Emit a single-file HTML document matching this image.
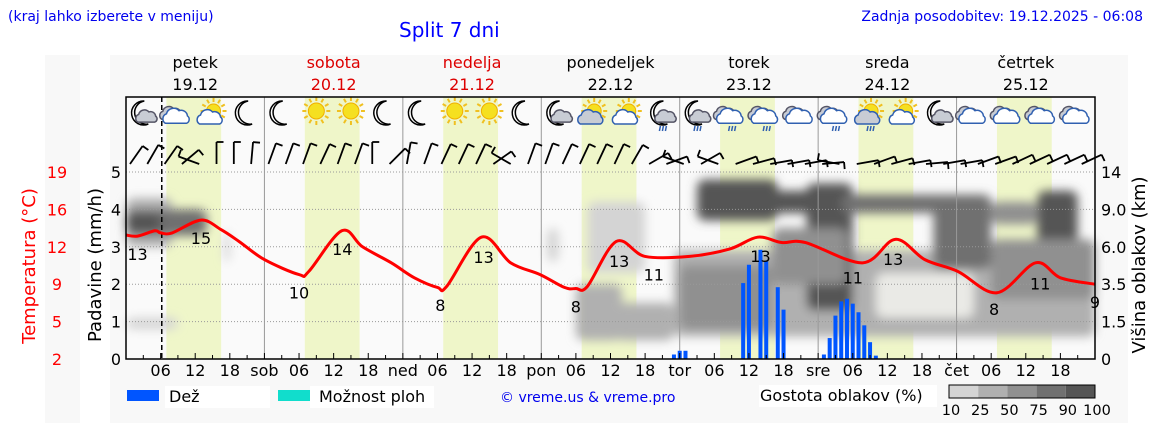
<!DOCTYPE html>
<html><head><meta charset="utf-8">
<style>
html,body{margin:0;padding:0;background:#fff;width:1152px;height:443px;overflow:hidden}
svg{display:block}
text{font-family:"DejaVu Sans","Liberation Sans",sans-serif}
</style></head>
<body>
<svg id="chart" width="1152" height="443" viewBox="0 0 1152 443" xmlns="http://www.w3.org/2000/svg">
<defs>
<filter id="blur" x="-20%" y="-20%" width="140%" height="140%"><feGaussianBlur stdDeviation="5"/></filter>
</defs>
<rect x="45" y="55" width="35" height="368" fill="#f8f8f8"/>
<rect x="110" y="55" width="1018" height="368" fill="#f8f8f8"/>
<text x="8" y="21" font-family="Liberation Sans" font-size="14" fill="#0000ee">(kraj lahko izberete v meniju)</text>
<text x="399" y="37" font-family="Liberation Sans" font-size="20" fill="#0000ff">Split 7 dni</text>
<text x="1143" y="21" text-anchor="end" font-family="Liberation Sans" font-size="14" fill="#0000ee">Zadnja posodobitev: 19.12.2025 - 06:08</text>
<g id="days"></g>
<rect x="126" y="97" width="969" height="262" fill="#fafafa"/>
<g id="daylight"></g>
<g id="clouds" filter="url(#blur)"></g>
<g id="grid"></g>
<g id="bars"></g>
<g id="temp"></g>
<g id="icons"></g>
<g id="wind"></g>
<g id="axes"></g>
<g>
<rect x="127" y="390" width="32" height="11" fill="#0055ff"/>
<rect x="165" y="386" width="105" height="22" fill="#fff"/>
<text x="169" y="402" font-size="16">Dež</text>
<rect x="278" y="390" width="32" height="11" fill="#11ddcc"/>
<rect x="310" y="386" width="124" height="22" fill="#fff"/>
<text x="319" y="402" font-size="16">Možnost ploh</text>
<text x="500" y="402" font-family="Liberation Sans" font-size="14" fill="#0000ee">© vreme.us &amp; vreme.pro</text>
<rect x="759" y="385" width="178" height="22" fill="#fff"/>
<text x="760" y="401" font-family="Liberation Sans" font-size="16">Gostota oblakov (%)</text>
<g id="cbar"></g>
</g>
</svg>
<script>
const NS='http://www.w3.org/2000/svg';
// ---- data ----
const dayNames=['petek','sobota','nedelja','ponedeljek','torek','sreda','četrtek'];
const dayDates=['19.12','20.12','21.12','22.12','23.12','24.12','25.12'];
const dayAbbr=['pet','sob','ned','pon','tor','sre','čet'];
const tempTicks=[2,5,9,12,16,19];
const precipTicks=[0,1,2,3,4,5];
const heightTicks=['0','1.5','3.5','6.0','9.0','14'];
const tempHours=[0,2,5,6,8,13,16.5,19.6,24,30,31.7,37.4,41,46,50,54,55.6,61.6,66.7,71.8,76,78,80,85,90,97.7,104.7,109.5,113.7,117.8,127.7,133.4,138.5,144.2,151,157.7,162,168];
const tempValues=[13.6,13.5,14.0,13.8,13.8,15.0,14.1,13.0,11.3,9.9,10.2,14.0,12.5,11.0,9.6,8.7,8.8,13.4,11.0,9.9,8.7,8.6,8.8,13.0,11.6,11.6,12.3,13.4,12.9,12.9,11.0,13.2,11.3,10.2,8.2,11.0,9.6,9.0];
const labelHours=[2,13,30,37.5,54.5,62,78,85.5,91.5,110,126,133,150.5,158.5,168];
const labelValues=[13,15,10,14,8,13,8,13,11,13,11,13,8,11,9];
const rainHours=[95,96,97,107,108,110,111,113,114,121,122,123,124,125,126,127,128,129,130];
const rainValues=[0.12,0.22,0.22,2.03,2.52,2.92,2.61,1.92,1.32,0.12,0.56,1.16,1.54,1.61,1.48,1.25,0.9,0.45,0.09];
const cloudH0=[0,0,0,0,17,73,80,78,95,96,85,99,106,118,112,124,140,150,158,150,130];
const cloudH1=[8,14,6,9,18,75,90,86,168,112,95,113,125,126,125,145,150,158,165,168,147];
const cloudV0=[3.0,3.3,3.4,0.8,2.6,2.6,2.3,0.5,0.6,0.8,0.5,3.7,3.9,1.3,2.0,3.9,2.4,3.6,2.5,1.6,1.1];
const cloudV1=[4.3,4.0,3.9,1.1,3.4,3.5,4.2,2.0,2.9,2.5,1.5,4.8,4.5,4.7,3.5,4.4,4.4,4.2,4.5,3.2,2.3];
const cloudLvl=[1,3,4,0,0,0,0,1,1,2,1,4,4,4,2,3,3,2,4,2,-1];
const iconTypes=['moonc','cloud','sunc','moon','moon','sun','sun','moon','moon','sun','sun','moon','moonc','suncd','sunc','moonr','moonr','cloudr','cloudr','cloud','cloudr','suncr','sunc','moonc','cloud','cloud','cloud','cloud'];
const windAngles=[35,30,35,50,-70,0,0,5, 20,20,20,25,20,20,0,45, 10,20,25,25,25,55,-60,20, 20,25,25,25,25,30,60,70, -70,60,-70,70,75,80,80,80, 85,-80,80,70,75,80,85,80, 80,70,70,65,65,65,65,65];
const densLabels=['10','25','50','75','90','100'];
const densColors=['#d4d4d4','#b0b0b0','#909090','#707070','#555555'];
const sunrise=7, sunset=16.5, nowHour=6.2;
// ---- scales ----
const X0=126,X1=1095,Y0=359,Y1=172,HOURS=168;
const x=h=>X0+(X1-X0)*h/HOURS;
const yv=v=>Y0-(Y0-Y1)*v/5;
const yt=t=>yv((t-2)/3.5);
function el(tag,attrs,parent,txt){const e=document.createElementNS(NS,tag);for(const k in attrs)e.setAttribute(k,attrs[k]);if(txt!==undefined)e.textContent=txt;parent.appendChild(e);return e;}
const g=id=>document.getElementById(id);
dayNames.forEach((n,i)=>{const cx=x(24*i+12);const col=(i==1||i==2)?'#dd0000':'#000';
 const a=el('text',{x:cx,y:68,'text-anchor':'middle','font-size':16,fill:col},g('days'),n);
 
 const b=el('text',{x:cx,y:90,'text-anchor':'middle','font-size':16,fill:col},g('days'),dayDates[i]);
 });
for(let d=0;d<7;d++){const r=el('rect',{x:x(24*d+sunrise),y:97,width:x(24*d+sunset)-x(24*d+sunrise),height:262,fill:'#eff6c9'},g('daylight'));
 }
cloudH0.forEach((h0,i)=>{const lv=cloudLvl[i];const c=lv<0?'#f4f4f0':densColors[lv];
 const r=el('rect',{x:x(h0),y:yv(cloudV1[i]),width:x(cloudH1[i])-x(h0),height:yv(cloudV0[i])-yv(cloudV1[i]),fill:c,rx:8,opacity:lv<0?0.85:1},g('clouds'));
 });
precipTicks.forEach(v=>{if(v==0)return;const l=el('line',{x1:X0,x2:X1,y1:yv(v),y2:yv(v),stroke:'#999','stroke-width':1,'stroke-dasharray':'1,2'},g('grid'));
 });
for(let d=1;d<7;d++){const l=el('line',{x1:x(24*d),x2:x(24*d),y1:97,y2:Y0,stroke:'#999','stroke-width':1},g('grid'));
 }
const nl=el('line',{x1:x(nowHour),x2:x(nowHour),y1:97,y2:Y0,stroke:'#000','stroke-width':1.5,'stroke-dasharray':'5,3'},g('grid'));

rainHours.forEach((h,i)=>{const r=el('rect',{x:x(h)-2,y:yv(rainValues[i]),width:4,height:Y0-yv(rainValues[i]),fill:'#0055ff'},g('bars'));
 });
const pts=tempHours.map((h,i)=>[x(h),yt(tempValues[i])]);
let d='M'+pts[0][0]+','+pts[0][1];
for(let i=0;i<pts.length-1;i++){const p0=pts[Math.max(0,i-1)],p1=pts[i],p2=pts[i+1],p3=pts[Math.min(pts.length-1,i+2)];
 d+=' C'+(p1[0]+(p2[0]-p0[0])/6)+','+(p1[1]+(p2[1]-p0[1])/6)+' '+(p2[0]-(p3[0]-p1[0])/6)+','+(p2[1]-(p3[1]-p1[1])/6)+' '+p2[0]+','+p2[1];}
const tl=el('path',{d:d,fill:'none',stroke:'#ff0000','stroke-width':3,'stroke-linejoin':'round'},g('temp'));

function interpT(h){for(let i=0;i<tempHours.length-1;i++){if(h<=tempHours[i+1]){const f=(h-tempHours[i])/(tempHours[i+1]-tempHours[i]);return tempValues[i]+f*(tempValues[i+1]-tempValues[i]);}}return tempValues[tempValues.length-1];}
labelHours.forEach((h,i)=>{const t=el('text',{x:Math.min(x(h),1100),y:yt(interpT(h))+24,'text-anchor':'middle','font-size':16,fill:'#000'},g('temp'),labelValues[i]);
 });
function cloudShape(par,cx,cy,s,fill,stroke){el('path',{d:`M${cx-10*s},${cy+6*s} a${5*s} ${5*s} 0 0 1 ${1*s},${-9*s} a${7*s} ${7*s} 0 0 1 ${12*s},${-3*s} a${6*s} ${6*s} 0 0 1 ${8*s},${5*s} a${4*s} ${4*s} 0 0 1 ${-1*s},${7*s} z`,fill:fill,stroke:stroke,'stroke-width':1.5},par);}
function sunShape(par,cx,cy,r){for(let k=0;k<12;k++){const a=k*Math.PI/6;el('line',{x1:cx+Math.cos(a)*(r+2),y1:cy+Math.sin(a)*(r+2),x2:cx+Math.cos(a)*(r+6),y2:cy+Math.sin(a)*(r+6),stroke:'#f0c020','stroke-width':2},par);}
 el('circle',{cx:cx,cy:cy,r:r,fill:'#f5e020',stroke:'#f0b000','stroke-width':1},par);}
function moonShape(par,cx,cy){el('path',{d:`M${cx+3},${cy-12} a12 12 0 1 0 4,23 a10 10 0 0 1 -4,-23 z`,fill:'#fff',stroke:'#000','stroke-width':1.5},par);}
iconTypes.forEach((t,i)=>{const cx=x(3+6*i),cy=113;const gg=el('g',{},g('icons'));
 
 if(t.startsWith('moon'))moonShape(gg,cx-2,cy);
 if(t.startsWith('sun'))sunShape(gg,t=='sun'?cx:cx+1,cy-2,t=='sun'?8:7);
 if(t=='moonc'||t=='moonr')cloudShape(gg,cx+3,cy+4,0.85,'#c8ccd4','#556');
 if(t=='sunc'||t=='suncd'||t=='suncr')cloudShape(gg,cx-3,cy+5,1.0,t=='sunc'?'#fff':'#c8ccd4','#3060b0');
 if(t=='cloud'||t=='cloudr'){cloudShape(gg,cx-7,cy+1,0.9,'#c8ccd4','#556');cloudShape(gg,cx-2,cy+4,1.05,'#fff','#3060b0');}
 if(t.endsWith('r')){for(let k=0;k<3;k++)el('line',{x1:cx-2+k*3,y1:cy+13,x2:cx-3+k*3,y2:cy+18,stroke:'#3060b0','stroke-width':1.5},gg);}
});
windAngles.forEach((a,i)=>{const bx=x(3*i)+4,by=164,L=22,r=a*Math.PI/180;
 const tx=bx+Math.sin(r)*L,ty=by-Math.cos(r)*L;
 const gg=el('g',{stroke:'#000','stroke-width':1.8},g('wind'));
 
 el('line',{x1:bx,y1:by,x2:tx,y2:ty},gg);
 el('line',{x1:tx,y1:ty,x2:tx+Math.cos(r)*7,y2:ty+Math.sin(r)*7},gg);});
const ax=g('axes');
el('path',{d:`M${X0},97 H${X1} V${Y0} H${X0} Z`,fill:'none',stroke:'#000','stroke-width':1.5},ax);
for(let h=3;h<HOURS;h+=3){el('line',{x1:x(h),x2:x(h),y1:Y0,y2:Y0-(h%6==0?6:4),stroke:'#000','stroke-width':1},ax);}
for(let d2=0;d2<7;d2++){[6,12,18].forEach(hh=>{const t=el('text',{x:x(24*d2+hh),y:376,'text-anchor':'middle','font-size':16},ax,String(hh).padStart(2,'0'));
 });
 if(d2>0){const t=el('text',{x:x(24*d2),y:376,'text-anchor':'middle','font-size':16},ax,dayAbbr[d2]);
 }}
precipTicks.forEach(v=>{const t=el('text',{x:121,y:yv(v)+6,'text-anchor':'end','font-size':16},ax,v);
 });
tempTicks.forEach((tv,i)=>{const t=el('text',{x:57,y:yv(i)+6,'text-anchor':'middle','font-size':16,fill:'#ff0000'},ax,tv);
 });
heightTicks.forEach((s,i)=>{const t=el('text',{x:1101,y:yv(i)+6,'font-size':16},ax,s);
 });
let t1=el('text',{transform:'translate(35,266) rotate(-90)','text-anchor':'middle','font-size':18,fill:'#ff0000'},ax,'Temperatura (°C)');

let t2=el('text',{transform:'translate(101,265) rotate(-90)','text-anchor':'middle','font-size':18},ax,'Padavine (mm/h)');

let t3=el('text',{transform:'translate(1145,265) rotate(-90)','text-anchor':'middle','font-size':18},ax,'Višina oblakov (km)');

const cb=g('cbar');
densColors.forEach((c,i)=>{const r=el('rect',{x:949+i*29.2,y:385,width:29.2,height:13,fill:c},cb);
 });
el('rect',{x:949,y:385,width:146,height:13,fill:'none',stroke:'#000','stroke-width':1},cb);
densLabels.forEach((s,i)=>{const t=el('text',{x:951+i*29.2,y:415,'text-anchor':'middle','font-size':14.5},cb,s);
 });
</script>
</body></html>
